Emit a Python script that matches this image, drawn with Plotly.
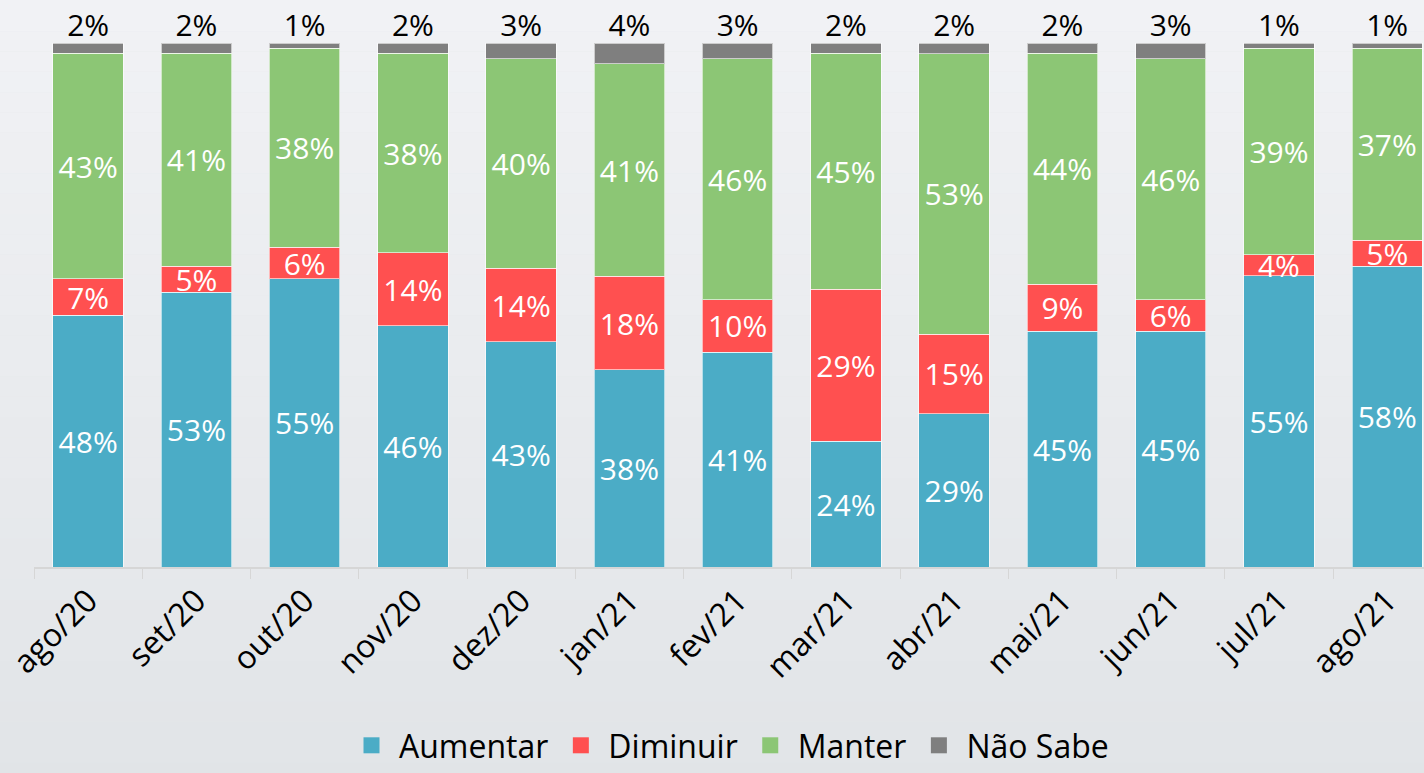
import plotly.graph_objects as go

meses = ["ago/20", "set/20", "out/20", "nov/20", "dez/20", "jan/21", "fev/21",
         "mar/21", "abr/21", "mai/21", "jun/21", "jul/21", "ago/21"]
aumentar = [48, 53, 55, 46, 43, 38, 41, 24, 29, 45, 45, 55, 58]
diminuir = [7, 5, 6, 14, 14, 18, 10, 29, 15, 9, 6, 4, 5]
manter = [43, 41, 38, 38, 40, 41, 46, 45, 53, 44, 46, 39, 37]
nao_sabe = [2, 2, 1, 2, 3, 4, 3, 2, 2, 2, 3, 1, 1]

FONT = "Open Sans"

fig = go.Figure()

series = [
    ("Aumentar", aumentar, "#4BACC6"),
    ("Diminuir", diminuir, "#FF5050"),
    ("Manter", manter, "#8CC675"),
    ("Não Sabe", nao_sabe, "#7F7F7F"),
]
for nome, vals, cor in series:
    inside = nome != "Não Sabe"
    fig.add_trace(go.Bar(
        name=nome, x=meses, y=vals, marker_color=cor,
        marker_line=dict(color="rgba(255,255,255,0.6)", width=1),
        text=[f"{v}%" for v in vals] if inside else None,
        textposition="inside" if inside else "none",
        insidetextanchor="middle",
        textfont=dict(color="white", size=30, family=FONT),
        textangle=0, showlegend=False,
    ))

# legend entries with bigger square swatches
for nome, vals, cor in series:
    fig.add_trace(go.Scatter(
        name=nome, x=[None], y=[None], mode="markers",
        marker=dict(symbol="square", size=16, color=cor),
    ))

# labels for "Não Sabe" above the bars
fig.add_trace(go.Scatter(
    x=meses, y=[100] * len(meses), mode="text",
    text=[f"{v}%" for v in nao_sabe], textposition="top center",
    textfont=dict(color="black", size=30, family=FONT),
    showlegend=False, cliponaxis=False, hoverinfo="skip",
))

# soft vertical gradient background
n = 40
top, bot = (241, 242, 245), (225, 228, 231)
y_hi, y_lo = 1.1, -0.45
step = (y_hi - y_lo) / n
for i in range(n):
    t = i / (n - 1)
    c = tuple(round(top[k] + (bot[k] - top[k]) * t) for k in range(3))
    fig.add_shape(type="rect", xref="paper", yref="paper", layer="below",
                  x0=-0.05, x1=1.05, y0=y_hi - (i + 1) * step, y1=y_hi - i * step,
                  line_width=0, fillcolor=f"rgb{c}")

fig.update_layout(
    barmode="stack", barnorm="percent", bargap=0.35,
    width=1424, height=773,
    margin=dict(l=34, r=0, t=43, b=205),
    paper_bgcolor="#e5e8eb", plot_bgcolor="rgba(0,0,0,0)",
    uniformtext=dict(mode="show", minsize=30),
    legend=dict(orientation="h", x=0.5, xanchor="center", y=-0.392, yanchor="bottom",
                font=dict(size=32, family=FONT, color="black"), traceorder="normal",
                bgcolor="rgba(0,0,0,0)", itemwidth=45),
    showlegend=True,
)
fig.update_xaxes(
    range=[-0.5, 12.34], tickangle=-45, tickson="boundaries", ticks="outside",
    ticklen=10, tickcolor="#d6d6d6", showline=True, linecolor="#d6d6d6", linewidth=2,
    tickfont=dict(size=32, family=FONT, color="black"), showgrid=False,
    automargin=False,
)
fig.update_yaxes(range=[0, 100], visible=False)

fig.write_html("out.html", config={"displayModeBar": False},
               post_script="document.body.style.margin='0';")
